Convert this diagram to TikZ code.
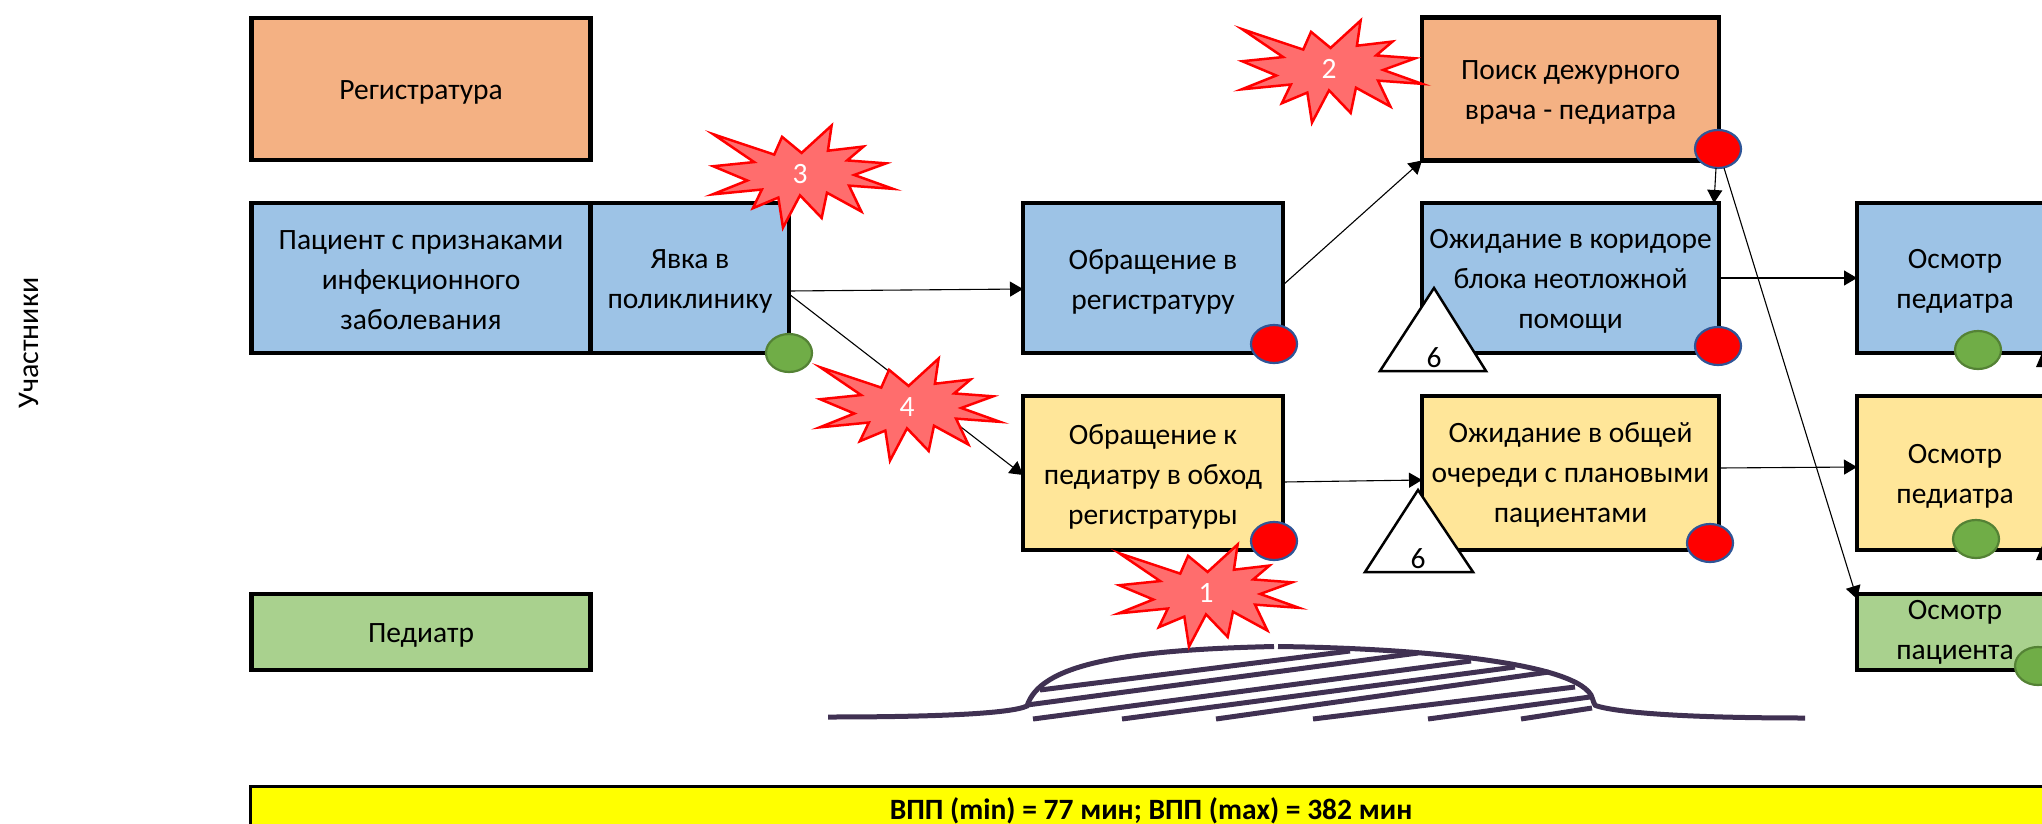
\documentclass[tikz,border=0pt]{standalone}
\usepackage{fontspec}
\setmainfont{Carlito}
\usetikzlibrary{arrows.meta,shapes.geometric}
\definecolor{cOrange}{HTML}{F4B183}
\definecolor{cBlue}{HTML}{9DC3E6}
\definecolor{cYellow}{HTML}{FFE699}
\definecolor{cGreen}{HTML}{A9D18E}
\definecolor{cBurst}{HTML}{FF6D6D}
\definecolor{cDome}{HTML}{403152}
\definecolor{cDotG}{HTML}{70AD47}
\definecolor{cDotGb}{HTML}{548235}
\definecolor{cDotRb}{HTML}{2F5597}
\definecolor{cBar}{RGB}{255,255,0}
\tikzset{
  x=1pt,y=-1pt,
  every node/.style={font=\fontsize{29.5}{40}\selectfont,inner sep=0pt,outer sep=0pt},
  stepbox/.style={draw=black,line width=4.8pt,minimum width=#1,inner sep=0pt},
  steptext/.style={align=center,text=black},
  arr/.style={line width=1.1pt,-{Triangle[length=13pt,width=15pt]}},
  reddot/.style={ellipse,draw=cDotRb,line width=2.2pt,fill=red,minimum width=46pt,minimum height=38pt},
  greendot/.style={ellipse,draw=cDotGb,line width=2.2pt,fill=cDotG,minimum width=46pt,minimum height=38pt},
  burstshape/.style={draw=red,line width=2.5pt,fill=cBurst,line join=miter},
  tri/.style={draw=black,line width=2.5pt,fill=white,line join=miter},
  dome/.style={draw=cDome,line width=5pt},
}
% [text drop] width, fill, height, name, position, text
\newcommand{\stepnode}[7][3.5]{%
  \node[stepbox=#2,fill=#3,minimum height=#4] (#5) at #6 {};
  \node[steptext,yshift=-#1pt] (#5t) at (#5) {#7};}
\newcommand{\burstat}[4]{%
  \path[burstshape,shift={(#1,#2)},xscale=.93,yscale=.97] (-93.3,-41) -- (-27.7,-20) -- (-19.3,-38.3) -- (1.7,-21.7) -- (34,-50) -- (30,-24) -- (68.3,-28.3) -- (50.7,-14) -- (92.7,-11) -- (58.3,1) -- (100,15.3) -- (52.7,12) -- (66,38.7) -- (29,19.3) -- (23.3,45.3) -- (0,22) -- (-18.3,55.3) -- (-23.3,24.3) -- (-50.7,35.3) -- (-41,16) -- (-94,21) -- (-56.7,6.7) -- (-93.3,-8) -- (-49.3,-12.3) -- cycle;
  \node[text=white] (#3) at (#1,#2) {#4};}
\begin{document}
\begin{tikzpicture}
\useasboundingbox (0,0) rectangle (2042,824);
\clip (0,0) rectangle (2042,824);

% lane label
\node[rotate=90,font=\fontsize{30}{39}\selectfont] (lane) at (29,343) {Участники};

% boxes
\stepnode{339pt}{cOrange}{142pt}{reg}{(421,89)}{Регистратура}
\stepnode[2]{339pt}{cBlue}{150pt}{pat}{(421,278)}{Пациент с признаками\\инфекционного\\заболевания}
\stepnode{198pt}{cBlue}{150pt}{yavka}{(690,278)}{Явка в\\поликлинику}
\stepnode{339pt}{cGreen}{76pt}{ped}{(421,632)}{Педиатр}
\stepnode{260pt}{cBlue}{150pt}{obr}{(1153,278)}{Обращение в\\регистратуру}
\stepnode{260pt}{cYellow}{154pt}{obk}{(1153,473)}{Обращение к\\педиатру в обход\\регистратуры}
\stepnode{297pt}{cOrange}{143pt}{poisk}{(1570.5,89)}{Поиск дежурного\\врача - педиатра}
\stepnode{297pt}{cBlue}{150pt}{ozh1}{(1570.5,278)}{Ожидание в коридоре\\блока неотложной\\помощи}
\stepnode[2]{297pt}{cYellow}{154pt}{ozh2}{(1570.5,473)}{Ожидание в общей\\очереди с плановыми\\пациентами}
\stepnode{196pt}{cBlue}{150pt}{osm1}{(1955,278)}{Осмотр\\педиатра}
\stepnode{196pt}{cYellow}{154pt}{osm2}{(1955,473)}{Осмотр\\педиатра}
\stepnode[0.5]{196pt}{cGreen}{76pt}{osm3}{(1955,632)}{Осмотр\\пациента}

% bottom bar
\node[draw=black,line width=3pt,fill=cBar,minimum width=1802pt,minimum height=50pt,font=\fontsize{29.5}{40}\selectfont\bfseries] (bar) at (1151,811) {ВПП (min) = 77 мин; ВПП (max) = 382 мин};

% dots
\node[reddot] (d1) at (1274,344) {};
\node[reddot] (d2) at (1274,541) {};
\node[reddot] (d3) at (1718,149) {};
\node[reddot] (d4) at (1718,346) {};
\node[reddot] (d5) at (1710,543) {};
\node[greendot] (g1) at (789,353) {};
\node[greendot] (g2) at (1978,350) {};
\node[greendot] (g3) at (1976,539) {};
\node[greendot] (g4) at (2038,666) {};

% connectors
\draw[arr] ([yshift=-13pt]yavka.east) -- ([yshift=-11pt]obr.west);
\draw[arr] ([yshift=-16pt]yavka.east) -- ([yshift=-2pt]obk.west);
\draw[arr] ([yshift=-7pt]obr.east) -- (poisk.south west);
\draw[arr] ([xshift=-2pt]d3.south) -- ([xshift=-5pt]ozh1.north east);
\draw[arr] ([xshift=6pt]d3.south) -- ([yshift=-5pt]osm3.north west);
\draw[arr] (ozh1.east) -- (osm1.west);
\draw[arr] ([yshift=-9pt]obk.east) -- ([yshift=-7pt]ozh2.west);
\draw[arr] ([yshift=5pt]ozh2.east) -- ([yshift=6pt]osm2.west);

% partly visible arrowheads at the right edge
\fill[black] (2036,367) -- (2042,353) -- (2048,367) -- cycle;
\fill[black] (2036,560) -- (2042,546) -- (2048,560) -- cycle;

% triangles
\draw[tri] (1434,288) -- (1486,371) -- (1380,371) -- cycle;
\node (t1) at (1434,358) {6};
\draw[tri] (1418,490) -- (1473,572) -- (1365,572) -- cycle;
\node (t2) at (1418,559) {6};

% dome
\draw[dome] (828,717) .. controls (930,717) and (1010,714) .. (1027,706)
  .. controls (1040,665) and (1120,650) .. (1274,646.5);
\draw[dome] (1278,646.5) .. controls (1400,648) and (1570,660) .. (1591,695)
  .. controls (1594,702) and (1594,706) .. (1597,706)
  .. controls (1620,713) and (1690,718) .. (1805,718);
\draw[dome] (1040,690) -- (1350,651);
\draw[dome] (1027,705) -- (1418,653);
\draw[dome] (1033,719) -- (1471,661);
\draw[dome] (1122,719) -- (1515,667);
\draw[dome] (1216,719) -- (1549,672);
\draw[dome] (1313,719) -- (1575,687);
\draw[dome] (1428,719) -- (1590,697);
\draw[dome] (1521,719) -- (1592,708);

% bursts
\burstat{1206}{593}{b1}{1}
\burstat{1329}{69}{b2}{2}
\burstat{800}{174}{b3}{3}
\burstat{907}{407}{b4}{4}
\end{tikzpicture}
\end{document}
